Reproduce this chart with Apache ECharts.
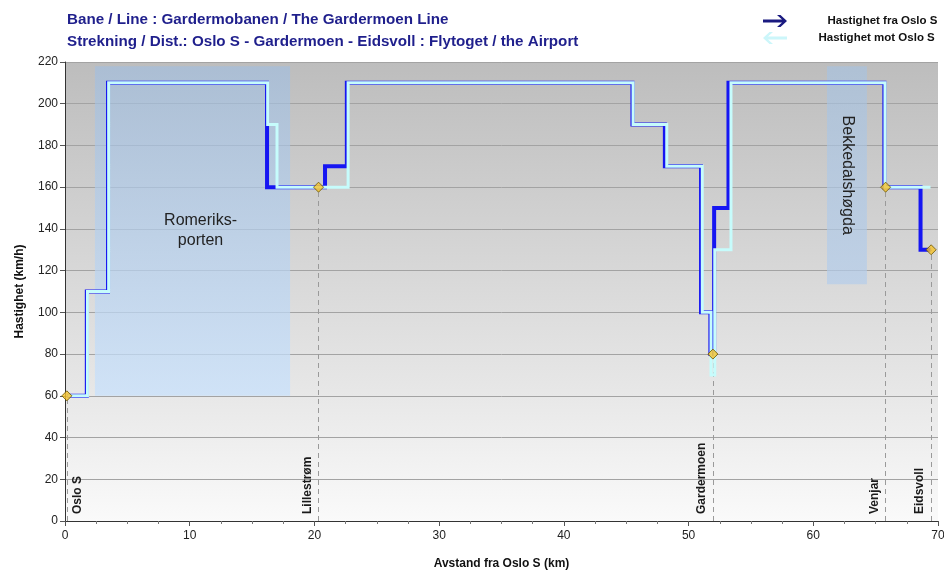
<!DOCTYPE html>
<html>
<head>
<meta charset="utf-8">
<script src="https://cdn.jsdelivr.net/npm/echarts@6/dist/echarts.min.js"></script>
<style>
html,body{margin:0;padding:0;background:#fff;}
#c{width:944px;height:572px;}
</style>
</head>
<body>
<div id="c"></div>
<script>
// ---- data ----
const titleLines = ['Bane / Line : Gardermobanen / The Gardermoen Line',
  'Strekning / Dist.: Oslo S - Gardermoen - Eidsvoll : Flytoget / the Airport'];
const seriesNames = ['Hastighet fra Oslo S', 'Hastighet mot Oslo S'];

const fraKm    = [0.2,1.75,1.75,3.45,3.45,16.2,16.2,20.85,20.85,22.6,22.6,45.5,45.5,48.1,48.1,51.0,51.0,51.75,51.75,52.05,52.05,53.2,53.2,65.7,65.7,68.6,68.6,69.4];
const fraSpeed = [60,60,110,110,210,210,160,160,170,170,210,210,190,190,170,170,100,100,80,80,150,150,210,210,160,160,130,130];

const motKm    = [0.2,1.8,1.8,3.5,3.5,16.25,16.25,17.0,17.0,22.7,22.7,45.55,45.55,48.25,48.25,51.1,51.1,51.8,51.8,52.1,52.1,53.4,53.4,65.75,65.75,69.4];
const motSpeed = [60,60,110,110,210,210,190,190,160,160,210,210,190,190,170,170,100,100,70,70,130,130,210,210,160,160];

const stationNames = ['Oslo S','Lillestrøm','Gardermoen','Venjar','Eidsvoll'];
const stationKm    = [0.15, 20.33, 51.95, 65.8, 69.45];
const stationSpeed = [60, 160, 80, 160, 130];

const zoneNames = ['Romeriks-\nporten', 'Bekkedalshøgda'];
const zoneStart = [2.4, 61.1];
const zoneEnd   = [18.05, 64.3];
const zoneLow   = [60, 113.5];
const zoneHigh  = [218, 218];

const xTicks = {min: 0, max: 70, interval: 10};
const yTicks = {min: 0, max: 220, interval: 20};

// ---- chart ----
const chart = echarts.init(document.getElementById('c'), null, {renderer: 'canvas'});
const FONT = 'Liberation Sans, Arial, sans-serif';

const zip = (a, b) => a.map((v, i) => [v, b[i]]);

const zoneStyles = [
  {color: new echarts.graphic.LinearGradient(0,0,0,1,[{offset:0,color:'rgba(160,190,225,0.62)'},{offset:1,color:'rgba(200,225,252,0.75)'}])},
  {color: new echarts.graphic.LinearGradient(0,0,0,1,[{offset:0,color:'rgba(165,195,228,0.6)'},{offset:1,color:'rgba(180,205,235,0.7)'}])}
];
const zoneLabels = [
  {show: true, position: 'inside', offset: [8, 0], fontSize: 16, color: '#222', fontFamily: FONT, lineHeight: 20, align: 'center'},
  {show: true, position: 'inside', rotate: -90, fontSize: 16, color: '#222', fontFamily: FONT}
];

const markAreaData = zoneNames.map((n, i) => [
  {name: n, coord: [zoneStart[i], zoneHigh[i]], itemStyle: zoneStyles[i], label: zoneLabels[i]},
  {coord: [zoneEnd[i], zoneLow[i]]}
]);

const markLineData = stationNames.map((n, i) => [
  {name: n, coord: [stationKm[i], 0],
   label: {show: true, formatter: n, position: i === 0 ? 'insideStartBottom' : 'insideStartTop',
           distance: [7, 5], fontSize: 12, fontWeight: 'bold', color: '#1a1a1a', fontFamily: FONT}},
  {coord: [stationKm[i], stationSpeed[i]]}
]);

const option = {
  animation: false,
  backgroundColor: '#ffffff',
  textStyle: {fontFamily: FONT},
  title: [
    {text: titleLines[0], left: 62, top: 7.5, textStyle: {fontSize: 15.2, fontWeight: 'bold', color: '#1f1f8c', fontFamily: FONT}},
    {text: titleLines[1], left: 62, top: 29.5, textStyle: {fontSize: 15.2, fontWeight: 'bold', color: '#1f1f8c', fontFamily: FONT}}
  ],
  legend: {
    orient: 'vertical',
    left: 763, top: 15, padding: 0,
    itemWidth: 25, itemHeight: 12, itemGap: 5,
    selectedMode: false,
    textStyle: {fontSize: 11.5, fontWeight: 'bold', color: '#111', fontFamily: FONT},
    data: [
      {name: seriesNames[0], icon: 'path://M0,6 L19,6 L14,1.5 L17.5,1.5 L24,7.5 L17.5,13.5 L14,13.5 L19,9 L0,9 Z',
       itemStyle: {color: '#1a1a80'}, textStyle: {padding: [0,0,0,35]}},
      {name: seriesNames[1], icon: 'path://M24,6 L5,6 L10,1.5 L6.5,1.5 L0,7.5 L6.5,13.5 L10,13.5 L5,9 L24,9 Z',
       itemStyle: {color: '#ccf6fa'}, textStyle: {padding: [0,0,0,26]}}
    ]
  },
  grid: {
    left: 65, right: 6, top: 62, bottom: 51,
    outerBoundsMode: 'none', containLabel: false,
    show: true, borderWidth: 0,
    backgroundColor: new echarts.graphic.LinearGradient(0,0,0,1,[
      {offset: 0, color: '#bdbdbd'}, {offset: 0.7, color: '#e6e6e6'}, {offset: 1, color: '#fafafa'}
    ])
  },
  xAxis: {
    type: 'value', min: xTicks.min, max: xTicks.max, interval: xTicks.interval,
    name: 'Avstand fra Oslo S (km)', nameLocation: 'middle', nameGap: 37,
    nameTextStyle: {fontSize: 12, fontWeight: 'bold', color: '#111', fontFamily: FONT},
    axisLine: {show: true, onZero: false, lineStyle: {color: '#333', width: 1}},
    axisTick: {show: true, length: 5, lineStyle: {color: '#555'}},
    minorTick: {show: true, splitNumber: 4, length: 3, lineStyle: {color: '#777'}},
    axisLabel: {fontSize: 12, color: '#222', margin: 9, fontFamily: FONT},
    splitLine: {show: false}
  },
  yAxis: {
    type: 'value', min: yTicks.min, max: yTicks.max, interval: yTicks.interval,
    name: 'Hastighet (km/h)', nameLocation: 'middle', nameGap: 39,
    nameTextStyle: {fontSize: 12, fontWeight: 'bold', color: '#111', fontFamily: FONT},
    axisLine: {show: true, lineStyle: {color: '#333', width: 1}},
    axisTick: {show: true, length: 5, lineStyle: {color: '#555'}},
    axisLabel: {fontSize: 12, color: '#222', margin: 7, fontFamily: FONT},
    splitLine: {show: true, lineStyle: {color: '#a3a3a3', width: 1}}
  },
  series: [
    {
      name: seriesNames[0], type: 'line', data: zip(fraKm, fraSpeed),
      showSymbol: false, symbol: 'none', z: 3,
      lineStyle: {color: '#1616f2', width: 4, join: 'miter', cap: 'butt'},
      itemStyle: {color: '#1a1a80'},
      markArea: {silent: true, data: markAreaData, z: 1}
    },
    {
      name: seriesNames[1], type: 'line', data: zip(motKm, motSpeed),
      showSymbol: false, symbol: 'none', z: 4,
      lineStyle: {color: '#c6fcfc', width: 3, join: 'miter', cap: 'butt'},
      itemStyle: {color: '#ccf6fa'}
    },
    {
      name: 'Stasjoner', type: 'scatter', data: zip(stationKm, stationSpeed),
      symbol: 'diamond', symbolSize: 10, z: 6,
      itemStyle: {color: '#f5c22b', borderColor: '#6a5500', borderWidth: 1},
      markLine: {
        silent: true, symbol: ['none','none'], z: 2,
        lineStyle: {color: '#9a9a9a', type: [5, 4], width: 1},
        data: markLineData
      }
    }
  ]
};
chart.setOption(option);
</script>
</body>
</html>
